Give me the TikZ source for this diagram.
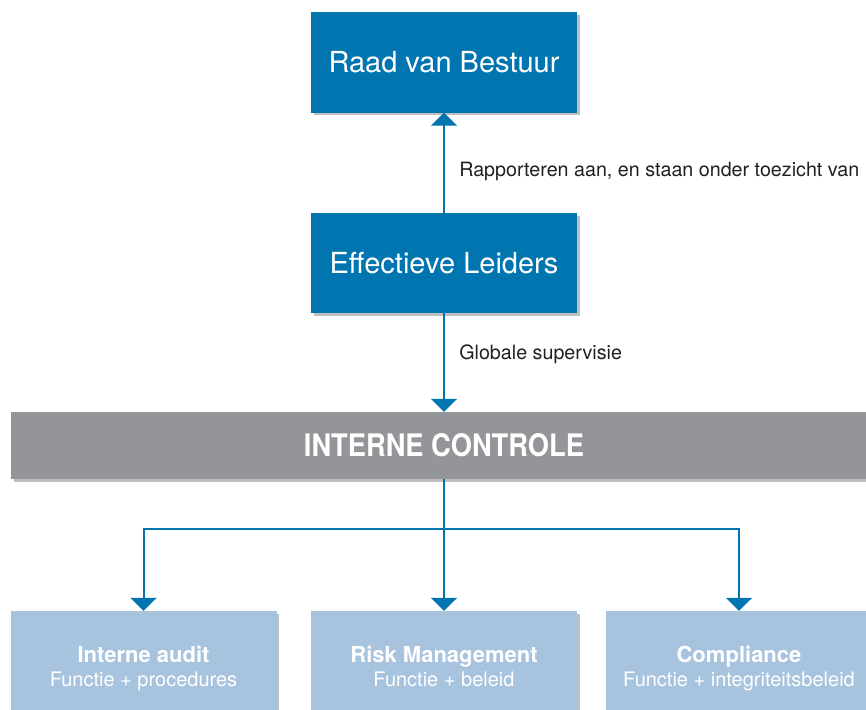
\documentclass[tikz,border=0pt]{standalone}
\usepackage{fontspec}
\setmainfont{TeX Gyre Heros}
\newfontfamily\condfont[FakeStretch=0.88]{TeX Gyre Heros}
\usepackage{tikz}
\usetikzlibrary{arrows.meta,shadows}

\definecolor{kblue}{RGB}{0,117,176}
\definecolor{kgray}{RGB}{147,149,152}
\definecolor{klight}{RGB}{167,195,222}
\definecolor{ktext}{RGB}{35,31,32}

\newcommand{\functie}[2]{{\bfseries\fontsize{22}{24}\selectfont #1}\\#2\vphantom{p}}

\begin{document}
\begin{tikzpicture}[x=1pt,y=-1pt,
  shade box/.style={drop shadow={shadow xshift=2.5pt,shadow yshift=-2.5pt,fill=black,opacity=0.25}},
  box/.style={rectangle,fill=kblue,text=white,shade box,minimum width=266pt,minimum height=100pt,
    font=\fontsize{29}{34}\selectfont},
  bar/.style={rectangle,fill=kgray,text=white,shade box,minimum width=866pt,minimum height=67pt,
    font={\condfont\bfseries\fontsize{31}{36}\selectfont}},
  sub/.style={rectangle,fill=klight,text=white,shade box,minimum width=266pt,minimum height=114pt,
    align=center,font=\fontsize{20}{24}\selectfont},
  link/.style={draw=kblue,line width=2pt,-{Triangle[width=26pt,length=13pt]}},
  lbl/.style={anchor=west,xshift=11pt,text=ktext,font=\fontsize{19.7}{24}\selectfont}]
\useasboundingbox (0,0) rectangle (866,709);
\clip (0,0) rectangle (866,709);

\node [box] (rvb) at (444,62.5) {Raad van Bestuur};
\node [box] (el) at (444,263) {Effectieve Leiders};
\node [bar] (ic) at (444,445.5) {INTERNE CONTROLE};

\node [sub] (ia) at (143.5,668) {\functie{Interne audit}{Functie + procedures}};
\node [sub] (rm) at (444,668) {\functie{Risk Management}{Functie + beleid}};
\node [sub] (co) at (739,668) {\functie{Compliance}{Functie + integriteitsbeleid}};

\draw [link] (el) -- (rvb) node [lbl,pos=0.41] {Rapporteren aan, en staan onder toezicht van};
\draw [link] (el) -- (ic) node [lbl,pos=0.42] {Globale supervisie};

% split naar de drie functies
\coordinate (split) at (444,529);
\draw [link] (ic) -- (rm);
\draw [link] (split) -| (ia.north);
\draw [link] (split) -| (co.north);
\end{tikzpicture}
\end{document}
